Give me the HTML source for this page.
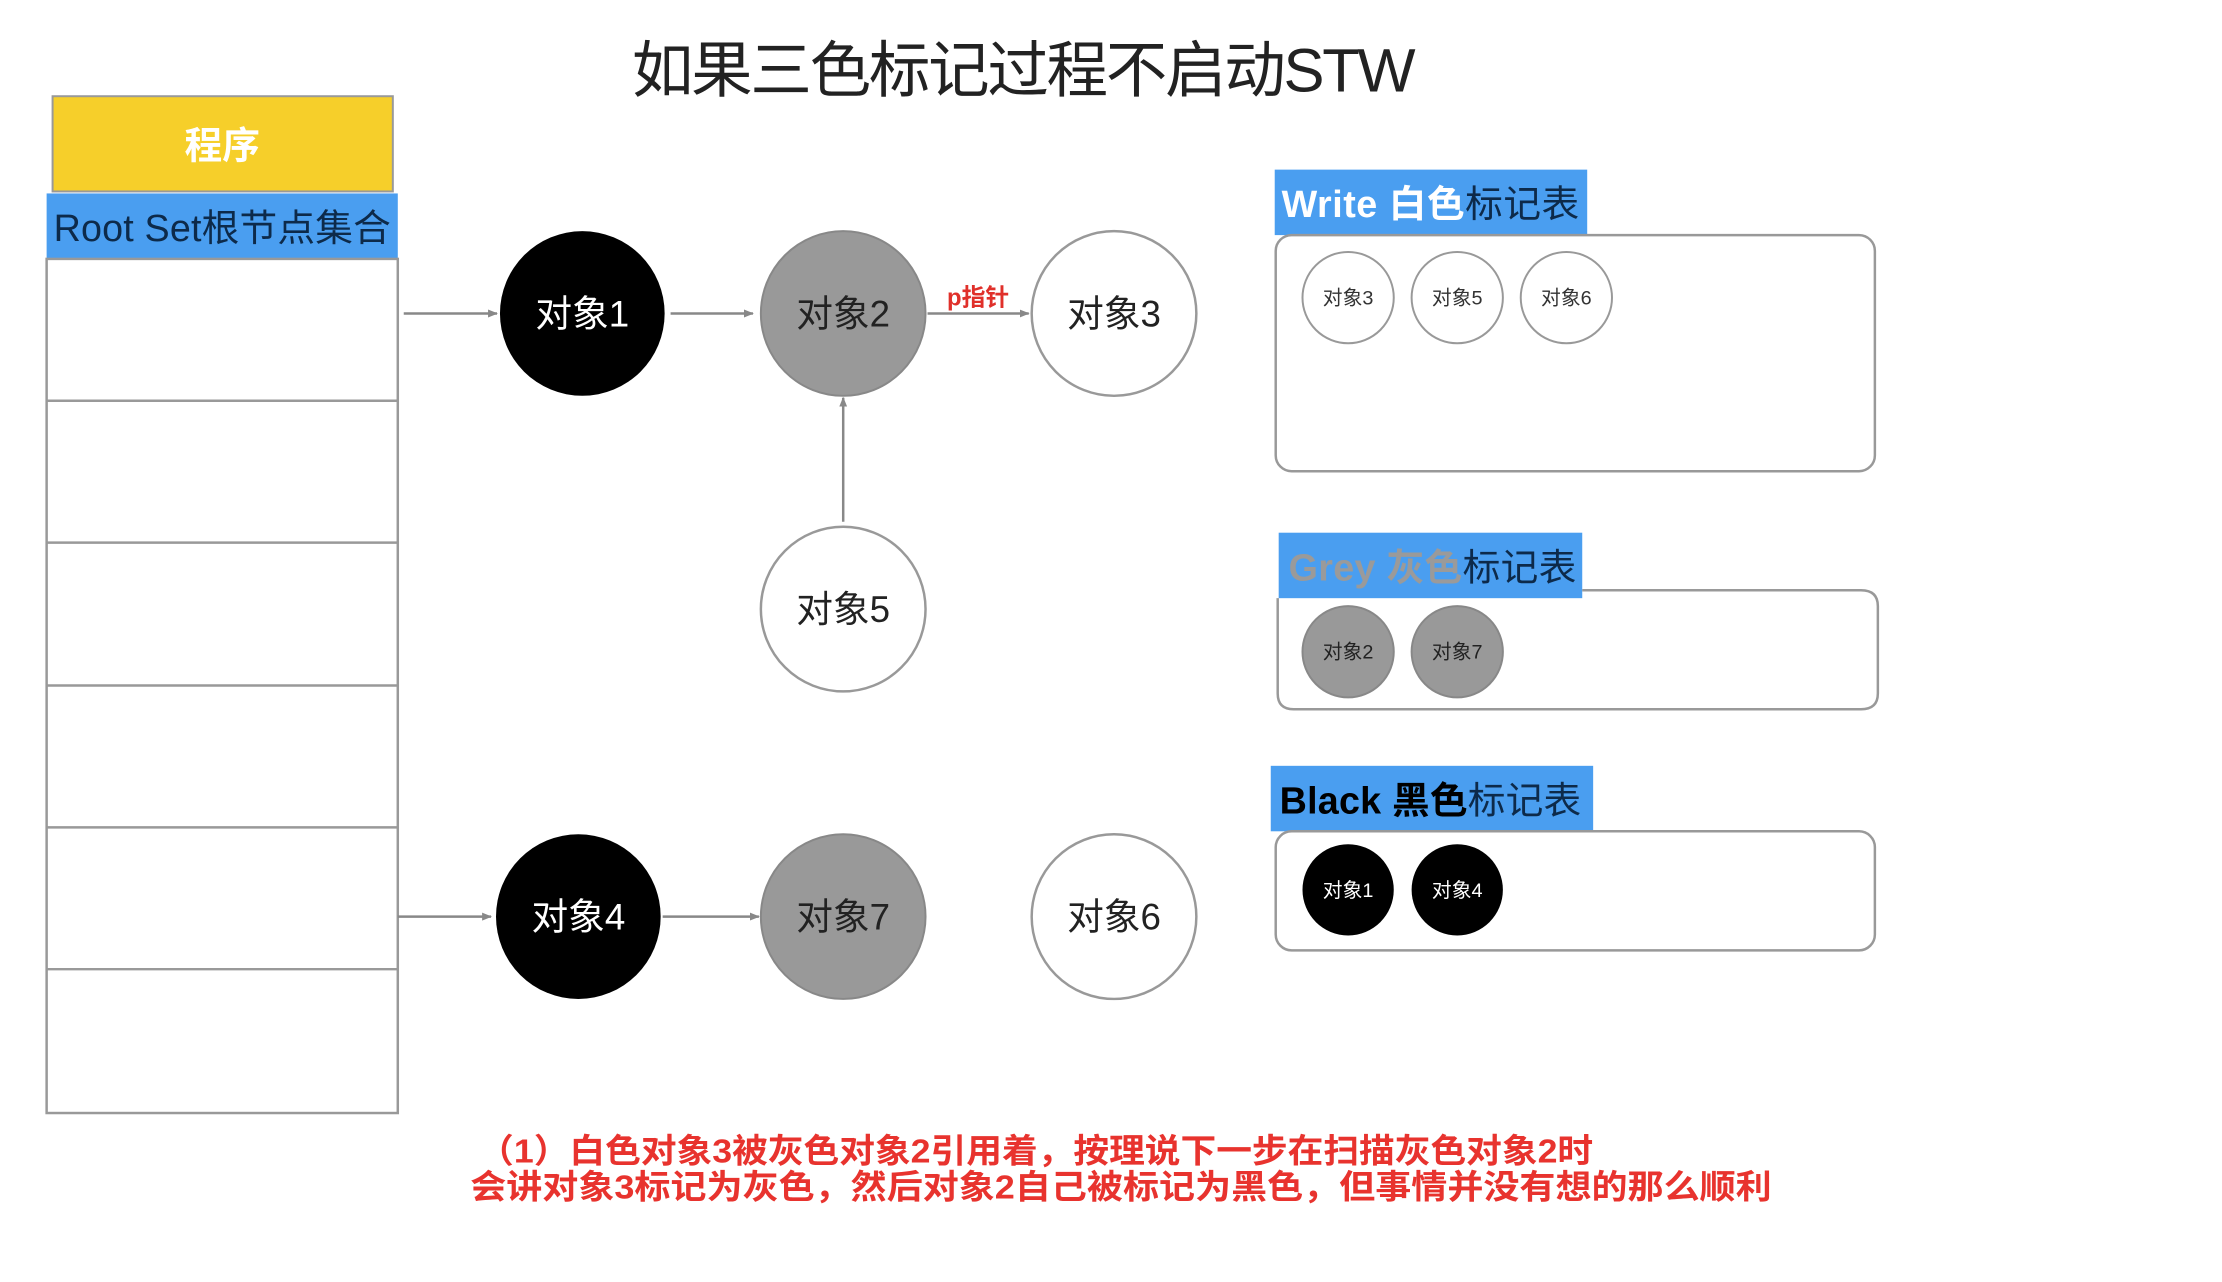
<!DOCTYPE html>
<html><head><meta charset="utf-8"><style>
html,body{margin:0;padding:0;background:#fff;}
svg{display:block}
</style></head><body>
<svg width="2222" height="1282" viewBox="0 0 2222 1282" xmlns="http://www.w3.org/2000/svg" font-family="'Liberation Sans','Noto Sans CJK SC',sans-serif">
<defs><marker id="a" markerWidth="10" markerHeight="10" refX="9" refY="5" orient="auto" markerUnits="userSpaceOnUse"><path d="M0,1 L10,5 L0,9 Z" fill="#888"/></marker></defs>
<g transform="scale(0.992)">
<text x="1032" y="92" font-size="62" text-anchor="middle" fill="#222" textLength="790">如果三色标记过程不启动STW</text>
<rect x="53" y="97" width="343" height="96" fill="#f6cf2a" stroke="#999" stroke-width="2"/>
<text x="224" y="160" font-size="38" font-weight="bold" fill="#fff" text-anchor="middle">程序</text>
<rect x="47" y="195" width="354" height="66" fill="#4a9ef0"/>
<text x="224" y="243" font-size="38" fill="#0d2a4a" text-anchor="middle" textLength="340">Root Set根节点集合</text>
<rect x="47" y="261" width="354" height="861" fill="#fff" stroke="#999" stroke-width="2.5"/>
<g stroke="#999" stroke-width="2.5"><line x1="47" y1="404" x2="401" y2="404"/><line x1="47" y1="547" x2="401" y2="547"/><line x1="47" y1="691" x2="401" y2="691"/><line x1="47" y1="834" x2="401" y2="834"/><line x1="47" y1="977" x2="401" y2="977"/></g>
<g stroke="#888" stroke-width="2.5" marker-end="url(#a)">
<line x1="407" y1="316" x2="501" y2="316"/><line x1="676" y1="316" x2="759" y2="316"/><line x1="935" y1="316" x2="1037" y2="316"/><line x1="850" y1="526" x2="850" y2="401"/>
<line x1="401" y1="924" x2="495" y2="924"/><line x1="668" y1="924" x2="765" y2="924"/></g>
<text x="986" y="308" font-size="24" font-weight="bold" fill="#e0302a" text-anchor="middle">p指针</text>
<g font-size="37" text-anchor="middle">
<circle cx="587" cy="316" r="83" fill="#000"/><text x="587" y="329" fill="#fff">对象1</text>
<circle cx="850" cy="316" r="83" fill="#999" stroke="#888" stroke-width="2"/><text x="850" y="329" fill="#222">对象2</text>
<circle cx="1123" cy="316" r="83" fill="#fff" stroke="#999" stroke-width="2.5"/><text x="1123" y="329" fill="#222">对象3</text>
<circle cx="850" cy="614" r="83" fill="#fff" stroke="#999" stroke-width="2.5"/><text x="850" y="627" fill="#222">对象5</text>
<circle cx="583" cy="924" r="83" fill="#000"/><text x="583" y="937" fill="#fff">对象4</text>
<circle cx="850" cy="924" r="83" fill="#999" stroke="#888" stroke-width="2"/><text x="850" y="937" fill="#222">对象7</text>
<circle cx="1123" cy="924" r="83" fill="#fff" stroke="#999" stroke-width="2.5"/><text x="1123" y="937" fill="#222">对象6</text>
</g>
<rect x="1285" y="171" width="315" height="66" fill="#4a9ef0"/>
<text x="1292" y="219" font-size="38" textLength="300"><tspan fill="#fff" font-weight="bold">Write 白色</tspan><tspan fill="#0d2a4a">标记表</tspan></text>
<rect x="1286" y="237" width="604" height="238" rx="16" fill="none" stroke="#999" stroke-width="2.5"/>
<rect x="1289" y="537" width="306" height="66" fill="#4a9ef0"/>
<text x="1299" y="585" font-size="38" textLength="290"><tspan fill="#9a9a9a" font-weight="bold">Grey 灰色</tspan><tspan fill="#0d2a4a">标记表</tspan></text>
<path d="M1595,595 L1876,595 Q1893,595 1893,611 L1893,699 Q1893,715 1876,715 L1304,715 Q1288,715 1288,699 L1288,603" fill="none" stroke="#999" stroke-width="2.5"/>
<rect x="1281" y="772" width="325" height="66" fill="#4a9ef0"/>
<text x="1290" y="820" font-size="38" textLength="304"><tspan fill="#000" font-weight="bold">Black 黑色</tspan><tspan fill="#0d2a4a">标记表</tspan></text>
<rect x="1286" y="838" width="604" height="120" rx="16" fill="none" stroke="#999" stroke-width="2.5"/>
<g font-size="20" text-anchor="middle">
<circle cx="1359" cy="300" r="46" fill="#fff" stroke="#999" stroke-width="2"/><text x="1359" y="307" fill="#333">对象3</text>
<circle cx="1469" cy="300" r="46" fill="#fff" stroke="#999" stroke-width="2"/><text x="1469" y="307" fill="#333">对象5</text>
<circle cx="1579" cy="300" r="46" fill="#fff" stroke="#999" stroke-width="2"/><text x="1579" y="307" fill="#333">对象6</text>
<circle cx="1359" cy="657" r="46" fill="#999" stroke="#888" stroke-width="2"/><text x="1359" y="664" fill="#222">对象2</text>
<circle cx="1469" cy="657" r="46" fill="#999" stroke="#888" stroke-width="2"/><text x="1469" y="664" fill="#222">对象7</text>
<circle cx="1359" cy="897" r="46" fill="#000"/><text x="1359" y="904" fill="#fff">对象1</text>
<circle cx="1469" cy="897" r="46" fill="#000"/><text x="1469" y="904" fill="#fff">对象4</text>
</g>
<g font-size="34" font-weight="bold" fill="#e8332e">
<text x="482" y="1172" textLength="1124" lengthAdjust="spacingAndGlyphs">（1）白色对象3被灰色对象2引用着，按理说下一步在扫描灰色对象2时</text>
<text x="474" y="1208" textLength="1312" lengthAdjust="spacingAndGlyphs">会讲对象3标记为灰色，然后对象2自己被标记为黑色，但事情并没有想的那么顺利</text>
</g>
</g>
</svg>
</body></html>
